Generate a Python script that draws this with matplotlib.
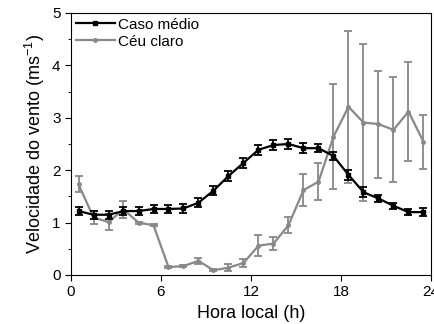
import matplotlib.pyplot as plt
from matplotlib.ticker import MultipleLocator
from matplotlib.lines import Line2D

plt.rcParams['font.family'] = ['Liberation Sans', 'DejaVu Sans']
plt.rcParams['mathtext.fontset'] = 'custom'
plt.rcParams['mathtext.rm'] = 'Liberation Sans'
plt.rcParams['mathtext.it'] = 'Liberation Sans'

hora = [0.5, 1.5, 2.5, 3.5, 4.5, 5.5, 6.5, 7.5, 8.5, 9.5, 10.5, 11.5,
        12.5, 13.5, 14.5, 15.5, 16.5, 17.5, 18.5, 19.5, 20.5, 21.5, 22.5, 23.5]
medio = [1.22, 1.15, 1.15, 1.22, 1.22, 1.26, 1.26, 1.27, 1.38, 1.61, 1.89, 2.14,
         2.39, 2.48, 2.50, 2.42, 2.42, 2.27, 1.91, 1.58, 1.46, 1.32, 1.20, 1.20]
medio_err = [0.08, 0.08, 0.08, 0.08, 0.08, 0.08, 0.08, 0.08, 0.08, 0.08, 0.09, 0.1,
             0.1, 0.1, 0.1, 0.09, 0.08, 0.08, 0.09, 0.09, 0.06, 0.06, 0.06, 0.07]
claro = [1.73, 1.10, 1.01, 1.25, 1.00, 0.95, 0.15, 0.17, 0.27, 0.09, 0.14, 0.23,
         0.56, 0.60, 0.95, 1.62, 1.78, 2.64, 3.21, 2.91, 2.88, 2.77, 3.12, 2.54]
claro_err = [0.15, 0.12, 0.15, 0.17, 0.02, 0.02, 0.02, 0.02, 0.06, 0.02, 0.07, 0.08,
             0.2, 0.12, 0.15, 0.3, 0.35, 1.0, 1.45, 1.5, 1.02, 1.0, 0.94, 0.51]

fig = plt.figure(figsize=(4.35, 3.24), dpi=100)
ax = fig.add_axes([71/435, 1-275/324, 360/435, 262/324])

ax.errorbar(hora, claro, yerr=claro_err, color='#888888', marker='o', ms=2.5,
            lw=1.6, elinewidth=1.3, capsize=3, capthick=1.3, zorder=2)
ax.errorbar(hora, medio, yerr=medio_err, color='black', marker='s', ms=2.5,
            lw=1.6, elinewidth=1.3, capsize=3, capthick=1.3, zorder=3)

ax.set_xlim(0, 24)
ax.set_ylim(0, 5)
ax.xaxis.set_major_locator(MultipleLocator(6))
ax.yaxis.set_major_locator(MultipleLocator(1))
ax.yaxis.set_minor_locator(MultipleLocator(0.5))
ax.tick_params(direction='out', labelsize=11, length=4)
ax.tick_params(which='minor', length=2.5)
ax.tick_params(axis='x', top=False)
ax.tick_params(axis='y', right=False)

ax.set_xlabel('Hora local (h)', fontsize=13)
ax.set_ylabel('Velocidade do vento (ms$^{-1}$)', fontsize=13)

handles = [Line2D([], [], color='black', marker='s', ms=2.5, lw=1.6),
           Line2D([], [], color='#888888', marker='o', ms=2.5, lw=1.6)]
ax.legend(handles, ['Caso médio', 'Céu claro'], loc='upper left', frameon=False,
          fontsize=11, handlelength=2.6, handletextpad=0.2, borderaxespad=0.1,
          borderpad=0.2, labelspacing=0.2)

fig.savefig('out.png', dpi=100)
